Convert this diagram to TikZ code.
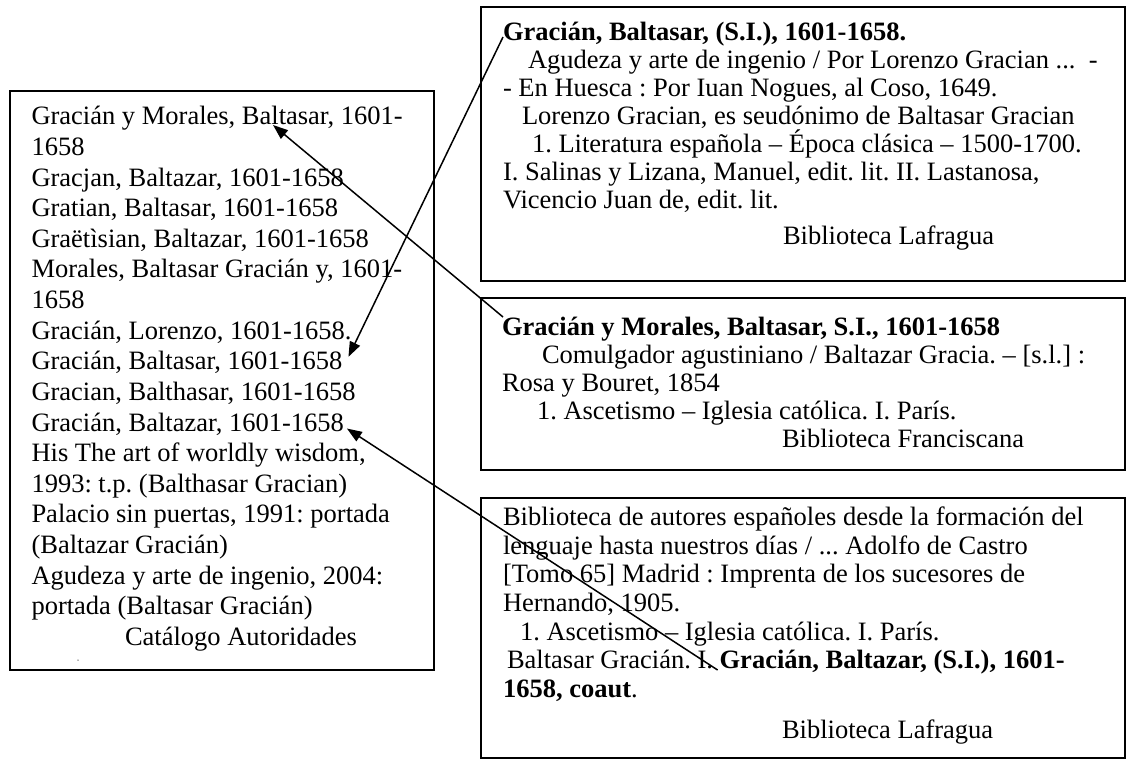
\documentclass[tikz,border=0pt]{standalone}
\usepackage{fontspec}
\setmainfont{Liberation Serif}
\usetikzlibrary{arrows.meta}
\frenchspacing
\begin{document}
\begin{tikzpicture}[x=1pt,y=-1pt,
  txt/.style={anchor=base west, inner sep=0pt, outer sep=0pt, font=\fontsize{26.5}{30}\selectfont},
  btxt/.style={txt, font=\fontsize{26.5}{30}\selectfont\bfseries},
  recbox/.style={draw=black, line width=2pt, rectangle, inner sep=0pt, fill=none},
  arr/.style={line width=1.5pt, -{Triangle[length=15pt,width=11pt]}}]
\useasboundingbox (0,0) rectangle (1135,759);

% frames
\node[recbox, minimum width=424pt, minimum height=579pt] (B0) at (222,380.5) {};
\node[recbox, minimum width=644pt, minimum height=274pt] (B1) at (803,144) {};
\node[recbox, minimum width=644pt, minimum height=172pt] (B2) at (803,384) {};
\node[recbox, minimum width=644pt, minimum height=260pt] (B3) at (803,628) {};

% left box
\node[txt] (L1) at (31.5,125) {Gracián y Morales, Baltasar, 1601-};
\node[txt] (L2) at (31.5,155.6) {1658};
\node[txt] (L3) at (31.5,186.2) {Gracjan, Baltazar, 1601-1658};
\node[txt] (L4) at (31.5,216.8) {Gratian, Baltasar, 1601-1658};
\node[txt] (L5) at (31.5,247.4) {Graëtìsian, Baltazar, 1601-1658};
\node[txt] (L6) at (31.5,278) {Morales, Baltasar Gracián y, 1601-};
\node[txt] (L7) at (31.5,308.6) {1658};
\node[txt] (L8) at (31.5,339.2) {Gracián, Lorenzo, 1601-1658.};
\node[txt] (L9) at (31.5,369.8) {Gracián, Baltasar, 1601-1658};
\node[txt] (L10) at (31.5,400.4) {Gracian, Balthasar, 1601-1658};
\node[txt] (L11) at (31.5,431) {Gracián, Baltazar, 1601-1658};
\node[txt] (L12) at (31.5,461.6) {His The art of worldly wisdom,};
\node[txt] (L13) at (31.5,492.2) {1993: t.p. (Balthasar Gracian)};
\node[txt] (L14) at (31.5,522.8) {Palacio sin puertas, 1991: portada};
\node[txt] (L15) at (31.5,553.4) {(Baltazar Gracián)};
\node[txt] (L16) at (31.5,584) {Agudeza y arte de ingenio, 2004:};
\node[txt] (L17) at (31.5,614.6) {portada (Baltasar Gracián)};
\node[txt] (L18) at (125,645.2) {Catálogo Autoridades};
\node[circle, fill=black!60, inner sep=0pt, minimum size=1.5pt] (dot) at (78,660) {};

% box 1
\node[btxt] (R1) at (503,41) {Gracián, Baltasar, (S.I.), 1601-1658.};
\node[txt] (R2) at (528,69) {Agudeza y arte de ingenio / Por Lorenzo Gracian ...\ \ -};
\node[txt] (R3) at (503,97) {- En Huesca : Por Iuan Nogues, al Coso, 1649.};
\node[txt] (R4) at (522,125) {Lorenzo Gracian, es seudónimo de Baltasar Gracian};
\node[txt] (R5) at (532,153) {1. Literatura española – Época clásica – 1500-1700.};
\node[txt] (R6) at (503,181) {I. Salinas y Lizana, Manuel, edit. lit. II. Lastanosa,};
\node[txt] (R7) at (503,209) {Vicencio Juan de, edit. lit.};
\node[txt] (R8) at (783,245) {Biblioteca Lafragua};

% box 2
\node[btxt] (S1) at (502,335) {Gracián y Morales, Baltasar, S.I., 1601-1658};
\node[txt] (S2) at (542,363) {Comulgador agustiniano / Baltazar Gracia. – [s.l.] :};
\node[txt] (S3) at (502,391) {Rosa y Bouret, 1854};
\node[txt] (S4) at (537,419) {1. Ascetismo – Iglesia católica. I. París.};
\node[txt] (S5) at (782,447) {Biblioteca Franciscana};

% box 3
\node[txt] (T1) at (503,525) {Biblioteca de autores españoles desde la formación del};
\node[txt] (T2) at (503,554) {lenguaje hasta nuestros días / ... Adolfo de Castro};
\node[txt] (T3) at (503,582) {[Tomo 65] Madrid : Imprenta de los sucesores de};
\node[txt] (T4) at (503,611) {Hernando, 1905.};
\node[txt] (T5) at (520,640) {1. Ascetismo – Iglesia católica. I. París.};
\node[txt] (T6) at (507,668) {Baltasar Gracián. I.};
\node[btxt] (T6b) at ([xshift=6.6pt]T6.base east) {Gracián, Baltazar, (S.I.), 1601-};
\node[txt] (T7) at (503,697) {\textbf{1658, coaut}.};
\node[txt] (T8) at (782,738) {Biblioteca Lafragua};

% connectors
\draw[arr] ([yshift=4pt]R1.base west) -- ([xshift=6pt,yshift=13pt]L9.base east);
\draw[arr] ([xshift=1pt,yshift=18pt]S1.base west) -- ([xshift=241.5pt]L1.base west);
\draw[arr] ([xshift=-2pt,yshift=-2pt]T6b.base west) -- ([xshift=3pt,yshift=2.5pt]L11.base east);
\end{tikzpicture}
\end{document}
